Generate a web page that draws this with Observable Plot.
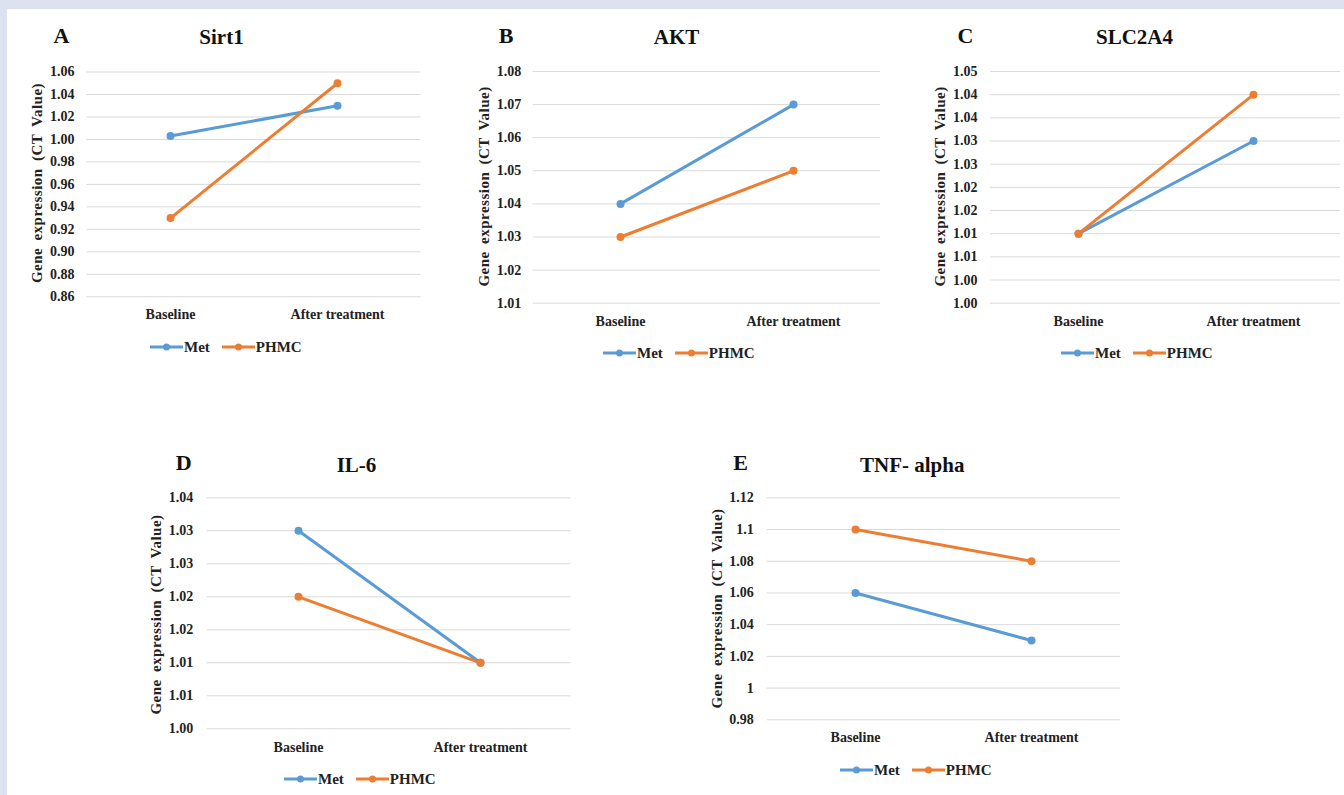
<!DOCTYPE html>
<html><head><meta charset="utf-8">
<script src="https://cdn.jsdelivr.net/npm/d3@7"></script>
<script src="https://cdn.jsdelivr.net/npm/@observablehq/plot@0.6"></script>
<style>
html,body{margin:0;padding:0;}
body{width:1344px;height:795px;background:#dde2f0;position:relative;overflow:hidden;font-family:'Liberation Serif','Times New Roman',Times,serif;}
#sheet{position:absolute;left:7px;top:9px;right:0;bottom:0;background:#fff;}
.panel{position:absolute;}
.panel svg{display:block;overflow:visible;}
.legend{position:absolute;display:flex;align-items:center;font-family:'Liberation Serif','Times New Roman',Times,serif;font-weight:bold;font-size:15px;color:#222;height:18px;line-height:18px;white-space:nowrap;}
.legend svg{display:block;}
</style></head><body><div id="sheet"></div>
<script>
// ---- data ----
const phases = ["Baseline", "After treatment"];
const seriesNames = ["Met", "PHMC"];
const seriesColors = ["#5B9BD5", "#ED7D31"];

const sirt1Met = [1.003, 1.030];
const sirt1PHMC = [0.930, 1.050];
const aktMet = [1.040, 1.070];
const aktPHMC = [1.030, 1.050];
const slcMet = [1.015, 1.035];
const slcPHMC = [1.015, 1.045];
const il6Met = [1.035, 1.015];
const il6PHMC = [1.025, 1.015];
const tnfMet = [1.060, 1.030];
const tnfPHMC = [1.100, 1.080];

const sirt1Ticks = [0.86, 0.88, 0.90, 0.92, 0.94, 0.96, 0.98, 1.00, 1.02, 1.04, 1.06];
const sirt1Labels = ["0.86", "0.88", "0.90", "0.92", "0.94", "0.96", "0.98", "1.00", "1.02", "1.04", "1.06"];
const aktTicks = [1.01, 1.02, 1.03, 1.04, 1.05, 1.06, 1.07, 1.08];
const aktLabels = ["1.01", "1.02", "1.03", "1.04", "1.05", "1.06", "1.07", "1.08"];
const slcTicks = [1.000, 1.005, 1.010, 1.015, 1.020, 1.025, 1.030, 1.035, 1.040, 1.045, 1.050];
const slcLabels = ["1.00", "1.00", "1.01", "1.01", "1.02", "1.02", "1.03", "1.03", "1.04", "1.04", "1.05"];
const il6Ticks = [1.005, 1.010, 1.015, 1.020, 1.025, 1.030, 1.035, 1.040];
const il6Labels = ["1.00", "1.01", "1.01", "1.02", "1.02", "1.03", "1.03", "1.04"];
const tnfTicks = [0.98, 1.00, 1.02, 1.04, 1.06, 1.08, 1.10, 1.12];
const tnfLabels = ["0.98", "1", "1.02", "1.04", "1.06", "1.08", "1.1", "1.12"];

const yTitle = "Gene expression (CT Value)";

const panels = [
  {letter: "A", title: "Sirt1", met: sirt1Met, phmc: sirt1PHMC, ticks: sirt1Ticks, labels: sirt1Labels,
   left: 0, top: 0, w: 450, h: 335, mL: 86.5, mR: 29.5, mT: 71.5, mB: 38.7, yPad: 12.5, xPad: 12,
   letterD: [-25.5, -36.5], titleD: [134.5, -34.5], yLabD: [-49.5, -1.4], legend: [150, 347]},
  {letter: "B", title: "AKT", met: aktMet, phmc: aktPHMC, ticks: aktTicks, labels: aktLabels,
   left: 450, top: 0, w: 450, h: 335, mL: 82.7, mR: 20, mT: 71, mB: 32.3, yPad: 12, xPad: 12.5,
   letterD: [-27, -36], titleD: [143.3, -34], yLabD: [-48.7, -0.9], legend: [603, 352.7]},
  {letter: "C", title: "SLC2A4", met: slcMet, phmc: slcPHMC, ticks: slcTicks, labels: slcLabels,
   left: 900, top: 0, w: 444, h: 335, mL: 90, mR: 4, mT: 71, mB: 32.3, yPad: 13, xPad: 12.5,
   letterD: [-25, -36], titleD: [144, -34], yLabD: [-50, -0.9], legend: [1061, 352.7]},
  {letter: "D", title: "IL-6", met: il6Met, phmc: il6PHMC, ticks: il6Ticks, labels: il6Labels,
   left: 130, top: 420, w: 460, h: 340, mL: 76.7, mR: 19.3, mT: 77.3, mB: 31.7, yPad: 14, xPad: 13.5,
   letterD: [-23.4, -34.6], titleD: [149.3, -32.3], yLabD: [-50.7, 1.2], legend: [284, 779]},
  {letter: "E", title: "TNF- alpha", met: tnfMet, phmc: tnfPHMC, ticks: tnfTicks, labels: tnfLabels,
   left: 690, top: 420, w: 460, h: 340, mL: 76.7, mR: 30, mT: 77.3, mB: 40.7, yPad: 13.5, xPad: 12.7,
   letterD: [-26.7, -34.6], titleD: [145, -32.3], yLabD: [-50, -0.3], legend: [840, 770]}
];

const serif = "'Liberation Serif', 'Times New Roman', Times, serif";

function makePanel(cfg) {
  const rows = [];
  [cfg.met, cfg.phmc].forEach((vals, si) =>
    vals.forEach((v, pi) => rows.push({series: seriesNames[si], phase: phases[pi], value: v})));
  const fmt = (d) => {
    const i = cfg.ticks.findIndex((t) => Math.abs(t - d) < 1e-6);
    return i >= 0 ? cfg.labels[i] : "";
  };
  const svg = Plot.plot({
    width: cfg.w, height: cfg.h,
    marginLeft: cfg.mL, marginRight: cfg.mR, marginTop: cfg.mT, marginBottom: cfg.mB,
    style: {fontFamily: serif, color: "#222", background: "transparent", overflow: "visible"},
    x: {type: "point", domain: phases, padding: 0.5},
    y: {domain: [cfg.ticks[0], cfg.ticks[cfg.ticks.length - 1]]},
    color: {domain: seriesNames, range: seriesColors},
    marks: [
      Plot.gridY({ticks: cfg.ticks, stroke: "#d9d9d9", strokeOpacity: 1, strokeWidth: 1}),
      Plot.axisY({ticks: cfg.ticks, tickSize: 0, tickPadding: cfg.yPad, tickFormat: fmt,
                  fontSize: 14, fontWeight: "bold", fontFamily: serif, label: null}),
      Plot.axisX({tickSize: 0, tickPadding: cfg.xPad, fontSize: 14, fontWeight: "bold",
                  fontFamily: serif, label: null}),
      Plot.line(rows, {x: "phase", y: "value", z: "series", stroke: "series", strokeWidth: 3}),
      Plot.dot(rows, {x: "phase", y: "value", fill: "series", r: 4}),
      Plot.text([cfg.letter], {text: (d) => d, frameAnchor: "top-left", dx: cfg.letterD[0], dy: cfg.letterD[1],
                 textAnchor: "middle", lineAnchor: "middle", fontSize: 22, fontWeight: "bold", fontFamily: serif, fill: "#111"}),
      Plot.text([cfg.title], {text: (d) => d, frameAnchor: "top-left", dx: cfg.titleD[0], dy: cfg.titleD[1],
                 textAnchor: "middle", lineAnchor: "middle", fontSize: 21, fontWeight: "bold", fontFamily: serif, fill: "#111"}),
      Plot.text([yTitle], {text: (d) => d, frameAnchor: "left", dx: cfg.yLabD[0], dy: cfg.yLabD[1], rotate: -90,
                 textAnchor: "middle", lineAnchor: "middle", fontSize: 15, fontWeight: "bold", fontFamily: serif, fill: "#222"})
    ]
  });
  d3.select(svg).selectAll("text").style("font-family", serif);
  d3.select(svg).selectAll("text").filter(function () { return this.textContent === yTitle; })
    .style("letter-spacing", "0.5px").style("word-spacing", "3px");
  const div = document.createElement("div");
  div.className = "panel";
  div.style.left = cfg.left + "px";
  div.style.top = cfg.top + "px";
  div.appendChild(svg);
  document.body.appendChild(div);

  // legend
  const leg = document.createElement("div");
  leg.className = "legend";
  leg.style.left = cfg.legend[0] + "px";
  leg.style.top = (cfg.legend[1] - 9) + "px";
  seriesNames.forEach((name, i) => {
    const sw = d3.create("svg").attr("width", 33).attr("height", 10);
    sw.append("line").attr("x1", 0).attr("x2", 33).attr("y1", 5).attr("y2", 5)
      .attr("stroke", seriesColors[i]).attr("stroke-width", 3);
    sw.append("circle").attr("cx", 16.5).attr("cy", 5).attr("r", 3.5).attr("fill", seriesColors[i]);
    leg.appendChild(sw.node());
    const t = document.createElement("span");
    t.textContent = name;
    t.style.marginLeft = "1px";
    if (i === 0) t.style.marginRight = "12px";
    leg.appendChild(t);
  });
  document.body.appendChild(leg);
}

panels.forEach(makePanel);
</script>
</body></html>
